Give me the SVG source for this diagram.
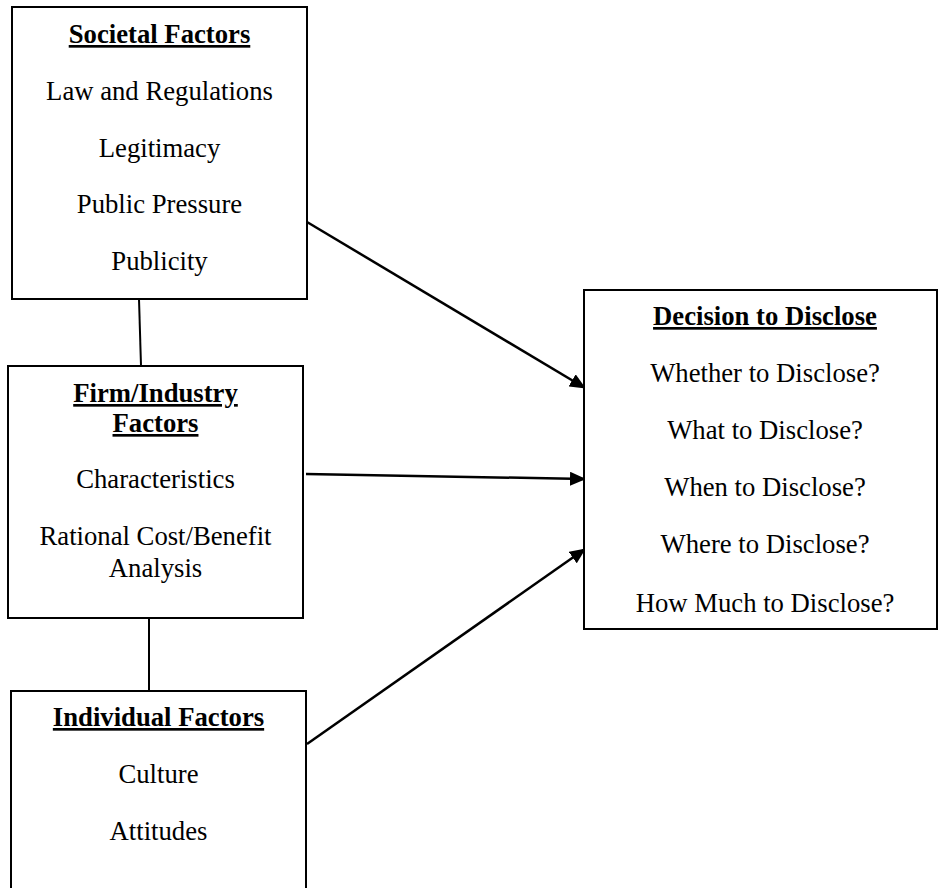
<svg xmlns="http://www.w3.org/2000/svg" width="938" height="888" viewBox="0 0 938 888">
  <style>
    .box { fill: #ffffff; stroke: #000000; stroke-width: 2; }
    .t { font-family: "Liberation Serif", "Times New Roman", serif; font-size: 26.7px; fill: #000000; text-anchor: middle; }
    .h { font-weight: bold; text-decoration: underline; }
    .link { stroke: #000000; stroke-width: 2; fill: none; }
    .arrow { stroke: #000000; stroke-width: 2.5; fill: none; marker-end: url(#head); }
  </style>
  <defs>
    <marker id="head" markerWidth="16" markerHeight="14" refX="15" refY="7" orient="auto" markerUnits="userSpaceOnUse">
      <path d="M0,0 L16,7 L0,14 Z" fill="#000000"/>
    </marker>
  </defs>
  <rect width="938" height="888" fill="#ffffff"/>

  <g id="connectors">
    <line class="link" x1="139" y1="299" x2="141" y2="366"/>
    <line class="link" x1="149" y1="618" x2="149" y2="691"/>
    <line class="arrow" x1="307" y1="222" x2="585" y2="388"/>
    <line class="arrow" x1="306" y1="474" x2="585" y2="479"/>
    <line class="arrow" x1="307" y1="744" x2="585" y2="549"/>
  </g>

  <g id="societal-factors">
    <rect class="box" x="12" y="7" width="295" height="292"/>
    <text class="t h" x="159.5" y="43">Societal Factors</text>
    <text class="t" x="159.5" y="100">Law and Regulations</text>
    <text class="t" x="159.5" y="157">Legitimacy</text>
    <text class="t" x="159.5" y="213">Public Pressure</text>
    <text class="t" x="159.5" y="270">Publicity</text>
  </g>

  <g id="firm-industry-factors">
    <rect class="box" x="8" y="366" width="295" height="252"/>
    <text class="t h" x="155.5" y="402">Firm/Industry</text>
    <text class="t h" x="155.5" y="432">Factors</text>
    <text class="t" x="155.5" y="488">Characteristics</text>
    <text class="t" x="155.5" y="545">Rational Cost/Benefit</text>
    <text class="t" x="155.5" y="577">Analysis</text>
  </g>

  <g id="individual-factors">
    <rect class="box" x="11" y="691" width="295" height="210"/>
    <text class="t h" x="158.5" y="726">Individual Factors</text>
    <text class="t" x="158.5" y="783">Culture</text>
    <text class="t" x="158.5" y="840">Attitudes</text>
  </g>

  <g id="decision-to-disclose">
    <rect class="box" x="584" y="290" width="353" height="339"/>
    <text class="t h" x="765" y="325">Decision to Disclose</text>
    <text class="t" x="765" y="382">Whether to Disclose?</text>
    <text class="t" x="765" y="439">What to Disclose?</text>
    <text class="t" x="765" y="496">When to Disclose?</text>
    <text class="t" x="765" y="553">Where to Disclose?</text>
    <text class="t" x="765" y="612">How Much to Disclose?</text>
  </g>
</svg>
